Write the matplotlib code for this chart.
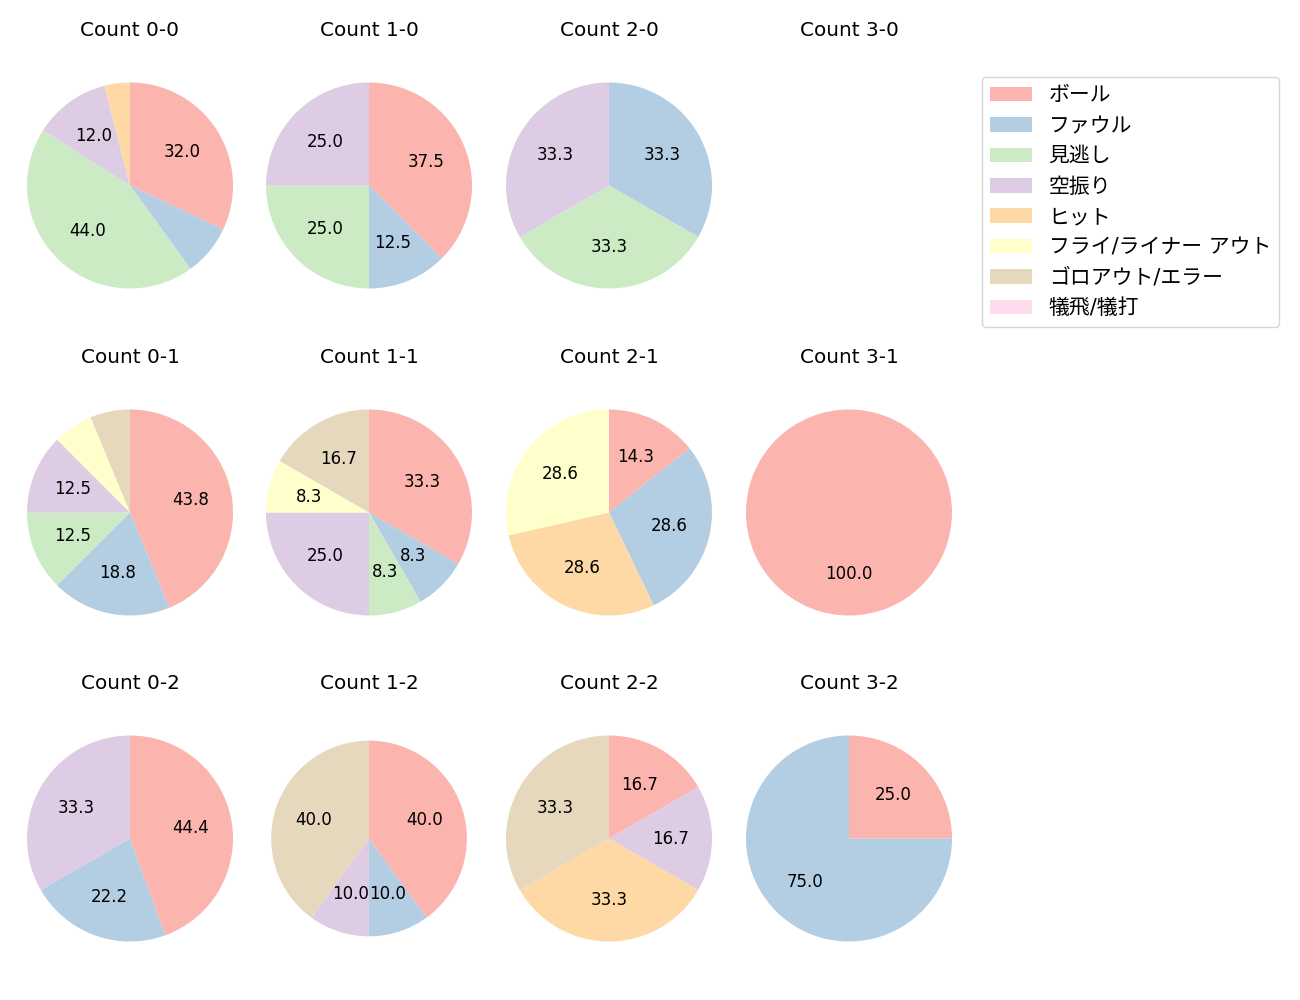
import numpy as np
import matplotlib as mpl

mpl.use("Agg")
import matplotlib.pyplot as plt
from matplotlib.patches import Patch

plt.rcParams["font.family"] = ["DejaVu Sans", "Noto Sans CJK JP"]
plt.rcParams["font.size"] = 12

results = ["ボール", "ファウル", "見逃し", "空振り", "ヒット",
           "フライ/ライナー アウト", "ゴロアウト/エラー", "犠飛/犠打"]

# pitch counts per result, keyed by ball-strike count
counts = {
    "0-0": [8, 2, 11, 3, 1, 0, 0, 0],
    "1-0": [3, 1, 2, 2, 0, 0, 0, 0],
    "2-0": [0, 1, 1, 1, 0, 0, 0, 0],
    "3-0": [0, 0, 0, 0, 0, 0, 0, 0],
    "0-1": [7, 3, 2, 2, 0, 1, 1, 0],
    "1-1": [4, 1, 1, 3, 0, 1, 2, 0],
    "2-1": [1, 2, 0, 0, 2, 2, 0, 0],
    "3-1": [1, 0, 0, 0, 0, 0, 0, 0],
    "0-2": [4, 2, 0, 3, 0, 0, 0, 0],
    "1-2": [4, 1, 0, 1, 0, 0, 4, 0],
    "2-2": [1, 0, 0, 1, 2, 0, 2, 0],
    "3-2": [1, 3, 0, 0, 0, 0, 0, 0],
}
balls = [0, 1, 2, 3]
strikes = [0, 1, 2]

colors = plt.cm.Pastel1.colors[:len(results)]

fig = plt.figure(figsize=(13, 10), dpi=100)

# pixel layout of pie centres
col_x = [130, 369, 609, 849]
row_y = [185.5, 512.5, 838.5]
box = 257.5

for r, s in enumerate(strikes):
    for c, b in enumerate(balls):
        key = "%d-%d" % (b, s)
        cx, cy = col_x[c], row_y[r]
        ax = fig.add_axes([(cx - box / 2) / 1300, 1 - (cy + box / 2) / 1000,
                           box / 1300, box / 1000])
        vals = np.array(counts[key])
        if vals.sum() > 0:
            ax.pie(vals, colors=colors, startangle=90, counterclock=False,
                   radius=0.95 if key == "1-2" else 1,
                   autopct=lambda p: "%.1f" % p if p > 8.1 else "")
            ax.set_xlim(-1.25, 1.25)
            ax.set_ylim(-1.25, 1.25)
        else:
            ax.axis("off")
        ax.set_title("Count " + key, pad=15)

handles = [Patch(facecolor=col, label=lab) for col, lab in zip(colors, results)]
fig.legend(handles=handles, loc="upper left", fontsize=15,
           bbox_to_anchor=(982 / 1300, 1 - 77 / 1000), borderaxespad=0)

fig.savefig("out.png", dpi=100)
